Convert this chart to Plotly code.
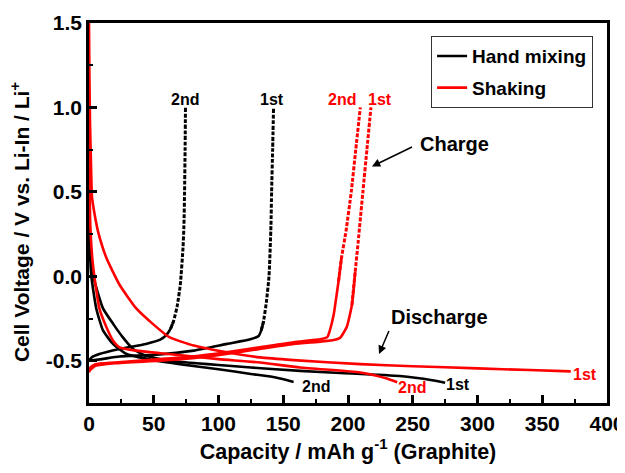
import plotly.graph_objects as go

# ---------------- data ----------------
# Hand mixing (black)
hm_dis1_cap = [0, 1, 2.5, 4.3, 10.8, 18.5, 26, 34, 44, 62, 83, 100, 125, 163, 194, 240, 265, 275]
hm_dis1_v = [0.40, 0.20, 0.05, -0.03, -0.19, -0.28, -0.36, -0.43, -0.47, -0.50, -0.515, -0.525,
             -0.54, -0.56, -0.572, -0.59, -0.615, -0.63]
hm_dis2_cap = [0, 1, 1.8, 5.6, 10.8, 18.5, 29, 49, 70, 100, 125, 145, 158]
hm_dis2_v = [0.30, 0.10, 0.0, -0.19, -0.32, -0.40, -0.46, -0.495, -0.52, -0.55, -0.578, -0.60, -0.625]
hm_chg1_cap = [0, 10, 23.6, 50, 80.8, 106.6, 124.6, 131, 133, 134.8, 137, 139, 140.5, 141, 141.8,
               142.5]
hm_chg1_v = [-0.50, -0.49, -0.475, -0.465, -0.44, -0.40, -0.373, -0.353, -0.32, -0.265, -0.15,
             0.0, 0.3, 0.5, 0.75, 1.0]
hm_chg2_cap = [0, 2, 8, 23.6, 44, 55, 60, 63, 65.3, 68, 70.5, 72.6, 73.3, 73.8, 74.2, 74.5]
hm_chg2_v = [-0.50, -0.48, -0.46, -0.43, -0.40, -0.375, -0.345, -0.31, -0.265, -0.18, -0.05, 0.17,
             0.30, 0.50, 0.75, 1.0]

# Shaking (red)
sh_dis1_cap = [0, 0.3, 0.8, 1.5, 2.3, 4.5, 7, 13.4, 23.6, 36.5, 49, 62, 80.8, 106.6, 132, 158,
               209.5, 250, 300, 340, 372]
sh_dis1_v = [1.50, 1.20, 0.90, 0.68, 0.47, 0.36, 0.265, 0.11, -0.05, -0.19, -0.28, -0.36, -0.41,
             -0.45, -0.48, -0.496, -0.52, -0.532, -0.545, -0.555, -0.563]
sh_dis2_cap = [0, 0.5, 1, 3, 8, 13.4, 18.5, 23.6, 36.5, 55, 75, 100, 132, 163, 209.5, 222, 230, 238]
sh_dis2_v = [0.90, 0.50, 0.30, 0.07, -0.19, -0.30, -0.38, -0.42, -0.44, -0.455, -0.47, -0.49,
             -0.51, -0.54, -0.569, -0.588, -0.605, -0.627]
sh_chg1_cap = [0, 5, 20, 55, 80, 106, 132, 158, 180, 190, 194, 199, 203, 205.6, 207.8, 211.5,
               214.6, 217.7]
sh_chg1_v = [-0.56, -0.53, -0.515, -0.50, -0.485, -0.46, -0.43, -0.40, -0.385, -0.375, -0.363,
             -0.30, -0.17, 0.03, 0.20, 0.50, 0.75, 1.0]
sh_chg2_cap = [0, 1, 5, 20, 55, 80, 106, 132, 158, 178.6, 184, 186, 189, 191, 192.7, 195, 198.5,
               202.5, 206, 209.5]
sh_chg2_v = [-0.57, -0.54, -0.52, -0.51, -0.49, -0.475, -0.45, -0.42, -0.39, -0.373, -0.36, -0.32,
             -0.225, -0.12, -0.03, 0.11, 0.27, 0.50, 0.75, 1.0]

# where the charge curves turn from solid to dashed (V)
hm_dash_from = -0.30
sh_dash_from = 0.0

# text labels
cycle_labels = ["2nd", "1st", "2nd", "1st", "2nd", "2nd", "1st", "1st"]
label_cap = [74.5, 141, 195.6, 225, 175, 249.5, 285, 383]
label_v = [1.05, 1.05, 1.05, 1.05, -0.65, -0.66, -0.64, -0.58]
label_color = ["black", "black", "red", "red", "black", "red", "black", "red"]

x_ticks = [0, 50, 100, 150, 200, 250, 300, 350, 400]
y_ticks = [-0.5, 0.0, 0.5, 1.0, 1.5]

BLACK = "#000000"
RED = "#FF0000"
FONT = "Liberation Sans, Arial, sans-serif"

fig = go.Figure()


def add_curve(cap, v, color, name=None, legend=False):
    fig.add_trace(go.Scatter(x=cap, y=v, mode="lines", name=name, showlegend=legend,
                             line=dict(color=color, width=2.6, shape="spline", smoothing=0.5),
                             legendgroup=name))


def add_charge(cap, v, color, thr, group):
    k = next(i for i, val in enumerate(v) if val > thr)
    fig.add_trace(go.Scatter(x=cap[:k + 1], y=v[:k + 1], mode="lines", showlegend=False,
                             line=dict(color=color, width=2.6, shape="spline", smoothing=0.5),
                             legendgroup=group))
    fig.add_trace(go.Scatter(x=cap[k - 1:], y=v[k - 1:], mode="lines", showlegend=False,
                             line=dict(color=color, width=3, dash="4px,1.6px", shape="spline",
                                       smoothing=0.5),
                             legendgroup=group))


add_curve(hm_dis1_cap, hm_dis1_v, BLACK, "Hand mixing", True)
add_curve(hm_dis2_cap, hm_dis2_v, BLACK, "Hand mixing")
add_charge(hm_chg1_cap, hm_chg1_v, BLACK, hm_dash_from, "Hand mixing")
add_charge(hm_chg2_cap, hm_chg2_v, BLACK, hm_dash_from, "Hand mixing")
add_curve(sh_dis1_cap, sh_dis1_v, RED, "Shaking", True)
add_curve(sh_dis2_cap, sh_dis2_v, RED, "Shaking")
add_charge(sh_chg1_cap, sh_chg1_v, RED, sh_dash_from, "Shaking")
add_charge(sh_chg2_cap, sh_chg2_v, RED, sh_dash_from, "Shaking")

for t, xc, yc, c in zip(cycle_labels, label_cap, label_v, label_color):
    fig.add_annotation(x=xc, y=yc, text=t, showarrow=False, xref="x", yref="y",
                       font=dict(family=FONT, size=16, color=c, weight="bold"))

# Charge / Discharge words with arrows
fig.add_annotation(x=218.5, y=0.651, ax=254.3, ay=0.784, axref="x", ayref="y", xref="x", yref="y",
                   text="Charge", xanchor="left", yanchor="middle", showarrow=True,
                   arrowhead=2, arrowsize=1.1, arrowwidth=1.5, arrowcolor="black",
                   startstandoff=7,
                   font=dict(family=FONT, size=20, color="black", weight="bold"))
fig.add_annotation(x=224, y=-0.46, ax=231.9, ay=-0.318, axref="x", ayref="y", xref="x", yref="y",
                   text="Discharge", xanchor="left", yanchor="bottom", showarrow=True,
                   arrowhead=2, arrowsize=1.1, arrowwidth=1.5, arrowcolor="black",
                   startstandoff=1,
                   font=dict(family=FONT, size=20, color="black", weight="bold"))

# y-axis title (sits slightly below the axis centre in the reference)
fig.add_annotation(x=-0.134, y=0.475, xref="paper", yref="paper", showarrow=False,
                   text="Cell Voltage / V vs. Li-In / Li<sup>+</sup>", textangle=-90,
                   xanchor="center", yanchor="middle",
                   font=dict(family=FONT, size=21, color="black", weight="bold"))

axis_common = dict(showline=True, linewidth=2.5, linecolor="black", mirror=True,
                   ticks="inside", ticklen=8, tickwidth=2.5, tickcolor="black",
                   showgrid=False, zeroline=False, automargin=False,
                   tickfont=dict(family=FONT, size=21, color="black", weight="bold"))

# the page body has an 8px margin, so the figure is drawn 8px right/down
fig.update_layout(
    width=617, height=465,
    margin=dict(l=81, r=18, t=15, b=70, autoexpand=False),
    paper_bgcolor="white", plot_bgcolor="white",
    font=dict(family=FONT, color="black", weight="bold"),
    xaxis=dict(range=[0, 400], tickvals=x_ticks, ticktext=[str(v) for v in x_ticks],
               minor=dict(ticks="inside", ticklen=4, tickwidth=2, tickcolor="black", dtick=25),
               title=dict(text="Capacity / mAh g<sup>-1</sup> (Graphite)", standoff=10,
                          font=dict(family=FONT, size=21.5, color="black", weight="bold")),
               **axis_common),
    yaxis=dict(range=[-0.75, 1.5], tickvals=y_ticks, ticktext=[f"{v:.1f}" for v in y_ticks],
               minor=dict(ticks="inside", ticklen=4, tickwidth=2, tickcolor="black", dtick=0.25,
                          tick0=0),
               **axis_common),
    legend=dict(x=0.660, y=0.966, xanchor="left", yanchor="top",
                bgcolor="white", bordercolor="#333333", borderwidth=1.2,
                itemwidth=30, tracegroupgap=4,
                font=dict(family=FONT, size=19, color="black", weight="bold")),
)

fig.write_html("out.html")
